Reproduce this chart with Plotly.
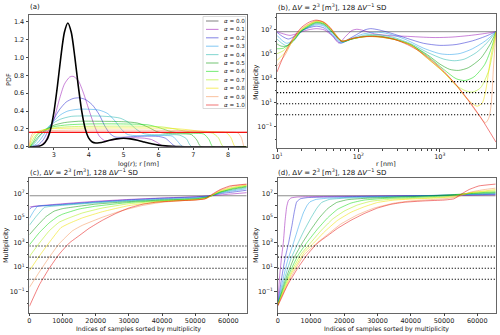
import numpy as np
import plotly.graph_objects as go

FONT = "DejaVu Sans"
W, H = 500, 335

ALPHA_LABELS = ["0.0", "0.1", "0.2", "0.3", "0.4", "0.5", "0.6", "0.7", "0.8", "0.9", "1.0"]
LINE_COLORS = [
    "rgba(0,0,0,0.45)",
    "rgba(150,10,180,0.5)",
    "rgba(30,30,210,0.5)",
    "rgba(0,145,230,0.45)",
    "rgba(0,170,160,0.45)",
    "rgba(0,150,0,0.5)",
    "rgba(0,220,0,0.5)",
    "rgba(170,240,0,0.5)",
    "rgba(240,225,0,0.55)",
    "rgba(245,130,60,0.45)",
    "rgba(230,0,0,0.5)",
]

# ── (a) sampling PDFs vs log(r) ─────────────────────────────────────────
A_X_BLACK = [2.30, 2.50, 2.60, 2.70, 2.80, 2.90, 3.00, 3.10, 3.20, 3.30, 3.40, 3.50, 3.60, 3.70, 3.80, 3.90,
             4.00, 4.10, 4.20, 4.30, 4.45, 4.60, 4.80, 5.00, 5.20, 5.40, 5.60, 5.80, 6.00, 6.20, 6.40, 6.60, 6.80, 8.52]
A_Y_BLACK = [0.000, 0.002, 0.008, 0.028, 0.078, 0.188, 0.386, 0.675, 1.007, 1.280, 1.387, 1.280, 1.007, 0.680, 0.395, 0.200,
             0.096, 0.053, 0.041, 0.044, 0.056, 0.072, 0.088, 0.094, 0.088, 0.072, 0.052, 0.033, 0.018, 0.009, 0.004, 0.001, 0.000, 0.000]

A_X_01 = [2.40, 2.60, 2.75, 2.90, 3.00, 3.15, 3.30, 3.45, 3.55, 3.70, 3.85, 4.00, 4.15, 4.30, 4.45, 4.60, 4.80, 5.00, 5.30, 5.60, 5.80, 5.95, 6.10, 6.25, 8.52]
A_Y_01 = [0.000, 0.010, 0.060, 0.190, 0.300, 0.520, 0.700, 0.780, 0.790, 0.740, 0.600, 0.420, 0.250, 0.120, 0.070, 0.070, 0.085, 0.095, 0.100, 0.095, 0.080, 0.050, 0.015, 0.000, 0.000]
A_X_02 = [2.38, 2.55, 2.70, 2.85, 3.00, 3.15, 3.35, 3.55, 3.72, 3.90, 4.10, 4.30, 4.45, 4.60, 4.75, 4.90, 5.20, 5.60, 6.00, 6.20, 6.35, 6.50, 8.52]
A_Y_02 = [0.000, 0.020, 0.080, 0.190, 0.310, 0.410, 0.500, 0.540, 0.548, 0.530, 0.470, 0.360, 0.240, 0.150, 0.110, 0.105, 0.112, 0.118, 0.115, 0.095, 0.045, 0.000, 0.000]
A_X_03 = [2.35, 2.50, 2.65, 2.80, 3.00, 3.20, 3.40, 3.70, 4.00, 4.30, 4.55, 4.75, 4.95, 5.10, 5.30, 5.70, 6.10, 6.40, 6.55, 6.70, 8.52]
A_Y_03 = [0.000, 0.030, 0.100, 0.190, 0.290, 0.360, 0.400, 0.420, 0.420, 0.410, 0.370, 0.290, 0.190, 0.140, 0.125, 0.125, 0.125, 0.118, 0.060, 0.000, 0.000]
A_X_04 = [2.33, 2.45, 2.60, 2.78, 3.00, 3.20, 3.50, 4.00, 4.50, 4.90, 5.15, 5.35, 5.55, 5.80, 6.20, 6.60, 6.80, 6.95, 8.52]
A_Y_04 = [0.000, 0.040, 0.120, 0.200, 0.270, 0.310, 0.340, 0.345, 0.340, 0.320, 0.270, 0.200, 0.150, 0.135, 0.135, 0.130, 0.090, 0.000, 0.000]
A_X_05 = [2.32, 2.42, 2.57, 2.78, 3.00, 3.30, 3.70, 4.30, 5.00, 5.40, 5.70, 5.95, 6.20, 6.60, 6.95, 7.10, 7.22, 8.52]
A_Y_05 = [0.000, 0.045, 0.120, 0.190, 0.240, 0.270, 0.285, 0.285, 0.280, 0.265, 0.220, 0.170, 0.150, 0.145, 0.135, 0.075, 0.000, 0.000]
A_X_06 = [2.31, 2.40, 2.52, 2.72, 3.00, 3.40, 4.00, 5.00, 5.70, 6.05, 6.35, 6.60, 7.00, 7.30, 7.45, 7.56, 8.52]
A_Y_06 = [0.000, 0.050, 0.130, 0.190, 0.225, 0.245, 0.255, 0.255, 0.245, 0.210, 0.170, 0.155, 0.150, 0.142, 0.080, 0.000, 0.000]
A_X_07 = [2.30, 2.37, 2.48, 2.68, 3.00, 3.50, 4.50, 5.50, 6.10, 6.45, 6.80, 7.20, 7.55, 7.72, 7.86, 8.52]
A_Y_07 = [0.000, 0.060, 0.130, 0.180, 0.210, 0.225, 0.230, 0.230, 0.222, 0.200, 0.172, 0.160, 0.152, 0.100, 0.000, 0.000]
A_X_08 = [2.295, 2.34, 2.43, 2.60, 2.90, 3.50, 4.50, 5.50, 6.40, 6.85, 7.20, 7.60, 7.95, 8.08, 8.20, 8.52]
A_Y_08 = [0.000, 0.070, 0.140, 0.180, 0.200, 0.208, 0.210, 0.210, 0.205, 0.190, 0.173, 0.165, 0.156, 0.100, 0.000, 0.000]
A_X_09 = [2.29, 2.32, 2.39, 2.50, 2.80, 3.50, 5.00, 6.50, 7.20, 7.60, 8.00, 8.28, 8.38, 8.46, 8.52]
A_Y_09 = [0.000, 0.080, 0.150, 0.170, 0.180, 0.185, 0.186, 0.182, 0.175, 0.168, 0.165, 0.155, 0.100, 0.000, 0.000]
A_X_10 = [2.286, 8.54]
A_Y_10 = [0.161, 0.161]

# ── (b) multiplicity vs r, stored as log10(r), log10(multiplicity) ──────
B_LR_00 = [1.00, 3.69]
B_LM_00 = [6.80, 6.80]
B_LR_01 = [1.00, 1.08, 1.16, 1.25, 1.35, 1.48, 1.58, 1.68, 1.76, 1.84, 1.92, 1.98, 2.05, 2.20, 2.40, 2.60, 2.80, 2.95, 3.15, 3.35, 3.52, 3.69]
B_LM_01 = [6.80, 6.62, 6.50, 6.65, 6.90, 7.05, 6.95, 6.45, 5.88, 6.40, 6.90, 7.00, 6.92, 6.62, 6.47, 6.42, 6.35, 6.32, 6.36, 6.48, 6.62, 6.80]
B_LR_02 = [1.00, 1.07, 1.14, 1.22, 1.32, 1.48, 1.58, 1.68, 1.78, 1.88, 2.00, 2.08, 2.15, 2.25, 2.40, 2.60, 2.80, 3.00, 3.20, 3.40, 3.56, 3.69]
B_LM_02 = [6.75, 6.40, 6.20, 6.45, 6.95, 7.25, 7.10, 6.50, 5.85, 6.20, 6.65, 6.95, 7.05, 6.95, 6.68, 6.25, 5.85, 5.68, 5.75, 6.05, 6.42, 6.80]
B_LR_03 = [1.00, 1.06, 1.12, 1.20, 1.30, 1.48, 1.58, 1.68, 1.79, 1.90, 2.05, 2.20, 2.30, 2.45, 2.60, 2.80, 3.00, 3.12, 3.25, 3.40, 3.56, 3.69]
B_LM_03 = [6.50, 6.10, 5.85, 6.10, 6.85, 7.37, 7.25, 6.60, 5.90, 6.20, 6.60, 6.75, 6.72, 6.48, 6.10, 5.45, 5.00, 4.93, 5.02, 5.40, 6.05, 6.80]
B_LR_04 = [1.00, 1.06, 1.12, 1.20, 1.30, 1.48, 1.58, 1.68, 1.80, 1.92, 2.10, 2.25, 2.45, 2.65, 2.85, 3.05, 3.18, 3.30, 3.45, 3.58, 3.69]
B_LM_04 = [6.20, 5.85, 5.65, 6.00, 6.80, 7.46, 7.33, 6.70, 5.95, 6.20, 6.55, 6.55, 6.30, 5.80, 5.10, 4.55, 4.42, 4.55, 5.10, 5.90, 6.80]
B_LR_05 = [1.00, 1.05, 1.12, 1.20, 1.30, 1.48, 1.58, 1.68, 1.80, 1.92, 2.10, 2.25, 2.45, 2.65, 2.85, 3.00, 3.12, 3.23, 3.35, 3.50, 3.62, 3.69]
B_LM_05 = [5.80, 5.62, 5.62, 6.05, 6.85, 7.53, 7.40, 6.75, 6.00, 6.20, 6.45, 6.45, 6.20, 5.70, 4.90, 4.15, 3.72, 3.63, 3.85, 4.60, 5.80, 6.80]
B_LR_06 = [1.00, 1.08, 1.18, 1.30, 1.48, 1.58, 1.68, 1.80, 1.92, 2.10, 2.25, 2.45, 2.65, 2.85, 3.05, 3.20, 3.31, 3.42, 3.55, 3.64, 3.69]
B_LM_06 = [5.40, 5.45, 6.00, 6.90, 7.58, 7.45, 6.80, 6.02, 6.20, 6.42, 6.40, 6.17, 5.72, 4.80, 3.70, 2.95, 2.80, 3.10, 4.10, 5.60, 6.80]
B_LR_07 = [1.00, 1.08, 1.18, 1.30, 1.48, 1.58, 1.68, 1.80, 1.92, 2.10, 2.25, 2.45, 2.65, 2.85, 3.05, 3.20, 3.32, 3.40, 3.50, 3.60, 3.66, 3.69]
B_LM_07 = [5.00, 5.25, 5.95, 6.95, 7.63, 7.50, 6.85, 6.02, 6.22, 6.40, 6.38, 6.15, 5.70, 4.65, 3.45, 2.40, 1.95, 1.85, 2.20, 3.60, 5.50, 6.80]
B_LR_08 = [1.00, 1.10, 1.20, 1.30, 1.48, 1.58, 1.68, 1.80, 1.92, 2.10, 2.25, 2.45, 2.65, 2.85, 3.05, 3.20, 3.32, 3.41, 3.46, 3.52, 3.56, 3.63, 3.69]
B_LM_08 = [4.45, 5.10, 6.10, 7.00, 7.67, 7.55, 6.90, 6.03, 6.24, 6.40, 6.37, 6.15, 5.65, 4.60, 3.45, 2.40, 1.40, 0.85, 0.70, 0.95, 1.85, 4.86, 6.80]
B_LR_09 = [1.00, 1.10, 1.20, 1.30, 1.48, 1.58, 1.68, 1.80, 1.92, 2.10, 2.25, 2.45, 2.65, 2.85, 3.05, 3.20, 3.35, 3.48, 3.56, 3.60, 3.63, 3.66, 3.69]
B_LM_09 = [4.00, 4.90, 6.20, 7.05, 7.71, 7.58, 6.95, 6.03, 6.25, 6.40, 6.37, 6.15, 5.70, 4.60, 3.50, 2.45, 1.15, -0.05, -0.66, -0.30, 0.80, 4.00, 6.80]
B_LR_10 = [1.00, 1.10, 1.20, 1.30, 1.40, 1.48, 1.56, 1.65, 1.72, 1.79, 1.86, 1.95, 2.05, 2.17, 2.30, 2.45, 2.60, 2.75, 2.90, 3.05, 3.20, 3.35, 3.50, 3.69]
B_LM_10 = [3.50, 5.10, 6.30, 7.15, 7.60, 7.75, 7.62, 7.15, 6.50, 6.03, 6.10, 6.28, 6.38, 6.42, 6.36, 6.15, 5.75, 5.20, 4.45, 3.55, 2.45, 1.20, -0.20, -2.25]

# threshold lines (dotted)
HLINES = [512, 64, 8, 1]

# ── (c) sorted multiplicity, log10 values ───────────────────────────────
C_IDX_00 = [0, 65536]
C_LM_00 = [6.80, 6.80]
C_IDX_01 = [0, 1500, 10000, 20000, 30000, 40000, 50000, 55000, 60000, 65536]
C_LM_01 = [5.88, 5.95, 6.15, 6.35, 6.50, 6.62, 6.72, 6.80, 6.92, 7.05]
C_IDX_02 = [0, 600, 1500, 10000, 20000, 30000, 40000, 50000, 54000, 58000, 62000, 65536]
C_LM_02 = [5.68, 5.85, 5.92, 6.10, 6.30, 6.47, 6.60, 6.70, 6.78, 6.98, 7.12, 7.25]
C_IDX_03 = [0, 1200, 2500, 5000, 10000, 20000, 30000, 40000, 50000, 54000, 58000, 62000, 65536]
C_LM_03 = [4.95, 5.50, 5.95, 6.00, 6.07, 6.27, 6.42, 6.55, 6.65, 6.75, 7.05, 7.22, 7.37]
C_IDX_04 = [0, 2000, 4500, 6000, 10000, 20000, 30000, 40000, 50000, 54000, 58000, 62000, 65536]
C_LM_04 = [4.40, 5.10, 5.85, 5.92, 6.02, 6.22, 6.38, 6.50, 6.60, 6.72, 7.08, 7.30, 7.46]
C_IDX_05 = [0, 2500, 5000, 7500, 10000, 20000, 30000, 40000, 50000, 53500, 57500, 61500, 65536]
C_LM_05 = [3.63, 4.40, 5.10, 5.55, 5.75, 6.12, 6.32, 6.45, 6.55, 6.68, 7.10, 7.35, 7.53]
C_IDX_06 = [0, 3000, 6000, 8500, 10000, 15000, 20000, 30000, 40000, 50000, 53500, 57500, 61500, 65536]
C_LM_06 = [2.80, 3.80, 4.60, 5.10, 5.30, 5.72, 5.95, 6.25, 6.40, 6.52, 6.65, 7.10, 7.40, 7.58]
C_IDX_07 = [0, 3000, 6000, 9000, 12000, 16000, 22000, 30000, 40000, 50000, 53500, 57500, 61500, 65536]
C_LM_07 = [1.85, 2.95, 3.95, 4.65, 5.00, 5.40, 5.80, 6.15, 6.37, 6.50, 6.62, 7.15, 7.45, 7.63]
C_IDX_08 = [0, 3000, 6000, 9500, 12000, 16000, 22000, 30000, 40000, 50000, 53500, 57500, 61500, 65536]
C_LM_08 = [0.70, 1.90, 3.00, 4.20, 4.55, 5.00, 5.50, 6.00, 6.32, 6.47, 6.60, 7.20, 7.50, 7.67]
C_IDX_09 = [0, 3000, 6000, 9000, 13000, 16000, 22000, 28000, 34000, 40000, 46000, 53000, 57500, 61500, 65536]
C_LM_09 = [-0.66, 0.60, 1.80, 2.90, 3.95, 4.40, 5.05, 5.60, 6.00, 6.27, 6.40, 6.55, 7.25, 7.60, 7.71]
C_IDX_10 = [0, 3000, 6000, 9000, 12000, 15000, 18000, 22000, 26000, 30000, 34000, 38000, 44000, 50000, 53000, 55000, 57500, 60500, 65536]
C_LM_10 = [-2.20, -0.45, 0.90, 2.05, 2.95, 3.55, 4.15, 4.80, 5.35, 5.80, 6.10, 6.27, 6.38, 6.45, 6.55, 6.90, 7.30, 7.60, 7.75]

# ── (d) sorted multiplicity, log10 values ───────────────────────────────
D_IDX_00 = [0, 65536]
D_LM_00 = [6.80, 6.80]
D_IDX_01 = [0, 600, 1200, 1700, 2200, 2700, 3200, 4000, 6000, 20000, 40000, 55000, 65536]
D_LM_01 = [-2.10, 0.30, 1.90, 3.00, 4.70, 5.90, 6.40, 6.62, 6.70, 6.76, 6.80, 6.83, 6.87]
D_IDX_02 = [0, 1000, 2200, 3300, 4300, 5000, 5700, 6800, 9000, 20000, 40000, 55000, 65536]
D_LM_02 = [-2.10, -0.20, 1.70, 3.00, 4.40, 5.50, 6.30, 6.55, 6.65, 6.72, 6.80, 6.86, 6.92]
D_IDX_03 = [0, 1500, 3000, 4800, 6300, 7700, 8800, 9700, 11500, 15000, 25000, 40000, 55000, 65536]
D_LM_03 = [-2.10, -0.10, 1.55, 3.00, 4.30, 5.40, 6.00, 6.30, 6.50, 6.60, 6.70, 6.78, 6.88, 6.95]
D_IDX_04 = [0, 2000, 4000, 6200, 8000, 10000, 11800, 13200, 15500, 20000, 30000, 45000, 55000, 65536]
D_LM_04 = [-2.10, 0.00, 1.70, 3.00, 4.00, 5.00, 5.80, 6.25, 6.50, 6.60, 6.68, 6.80, 6.90, 7.00]
D_IDX_05 = [0, 2500, 5000, 7500, 10000, 12500, 15000, 17700, 21000, 27000, 35000, 45000, 52000, 58000, 65536]
D_LM_05 = [-2.10, 0.10, 1.80, 3.00, 4.05, 5.00, 5.75, 6.25, 6.48, 6.60, 6.68, 6.78, 6.88, 6.98, 7.05]
D_IDX_06 = [0, 3000, 6000, 8800, 12000, 15000, 18000, 22000, 26000, 32000, 40000, 48000, 53000, 58000, 65536]
D_LM_06 = [-2.10, 0.20, 1.90, 3.00, 4.10, 5.00, 5.70, 6.20, 6.45, 6.58, 6.65, 6.75, 6.85, 7.00, 7.12]
D_IDX_07 = [0, 3500, 7000, 10000, 13000, 16500, 20000, 24000, 28000, 34000, 42000, 49000, 53000, 58000, 65536]
D_LM_07 = [-2.10, 0.30, 2.05, 3.00, 3.95, 4.90, 5.55, 6.05, 6.35, 6.52, 6.60, 6.68, 6.80, 7.05, 7.20]
D_IDX_08 = [0, 4000, 8000, 11000, 14000, 18000, 22000, 26000, 30000, 35000, 42000, 48000, 53000, 58000, 65536]
D_LM_08 = [-2.10, 0.40, 2.20, 3.00, 3.85, 4.80, 5.45, 5.90, 6.25, 6.45, 6.55, 6.62, 6.72, 7.05, 7.30]
D_IDX_09 = [0, 4000, 8000, 12000, 15000, 19000, 24000, 29000, 35000, 40000, 45000, 50000, 54000, 58000, 62000, 65536]
D_LM_09 = [-2.10, 0.20, 2.00, 3.00, 3.65, 4.50, 5.25, 5.80, 6.20, 6.38, 6.47, 6.55, 6.70, 7.10, 7.30, 7.42]
D_IDX_10 = C_IDX_10
D_LM_10 = C_LM_10

A_CURVES = [(A_X_01, A_Y_01), (A_X_02, A_Y_02), (A_X_03, A_Y_03), (A_X_04, A_Y_04), (A_X_05, A_Y_05),
            (A_X_06, A_Y_06), (A_X_07, A_Y_07), (A_X_08, A_Y_08), (A_X_09, A_Y_09), (A_X_10, A_Y_10)]
B_CURVES = [(B_LR_00, B_LM_00), (B_LR_01, B_LM_01), (B_LR_02, B_LM_02), (B_LR_03, B_LM_03), (B_LR_04, B_LM_04),
            (B_LR_05, B_LM_05), (B_LR_06, B_LM_06), (B_LR_07, B_LM_07), (B_LR_08, B_LM_08), (B_LR_09, B_LM_09),
            (B_LR_10, B_LM_10)]
C_CURVES = [(C_IDX_00, C_LM_00), (C_IDX_01, C_LM_01), (C_IDX_02, C_LM_02), (C_IDX_03, C_LM_03), (C_IDX_04, C_LM_04),
            (C_IDX_05, C_LM_05), (C_IDX_06, C_LM_06), (C_IDX_07, C_LM_07), (C_IDX_08, C_LM_08), (C_IDX_09, C_LM_09),
            (C_IDX_10, C_LM_10)]
D_CURVES = [(D_IDX_00, D_LM_00), (D_IDX_01, D_LM_01), (D_IDX_02, D_LM_02), (D_IDX_03, D_LM_03), (D_IDX_04, D_LM_04),
            (D_IDX_05, D_LM_05), (D_IDX_06, D_LM_06), (D_IDX_07, D_LM_07), (D_IDX_08, D_LM_08), (D_IDX_09, D_LM_09),
            (D_IDX_10, D_LM_10)]


def px_x(p):
    return p / W


def px_y(p):
    return 1 - p / H


def line(fig, x, y, color, ax, width=1.0, smoothing=0.8, dash="solid"):
    fig.add_trace(go.Scatter(
        x=x, y=y, mode="lines", showlegend=False, hoverinfo="skip",
        line=dict(color=color, width=width, shape="spline" if smoothing else "linear",
                  smoothing=smoothing, dash=dash),
        xaxis="x" + ax, yaxis="y" + ax,
    ))


fig = go.Figure()

# (a)
for (xs, ys), color in zip(A_CURVES, LINE_COLORS[1:]):
    line(fig, xs, ys, color, "", smoothing=0.7)
line(fig, A_X_10, A_Y_10, "rgb(245,20,20)", "", width=1.3, smoothing=0)
line(fig, A_X_BLACK, A_Y_BLACK, "black", "", width=1.6, smoothing=0.7)

# (b), (c), (d)
for ax, curves, xlim, is_r in (("2", B_CURVES, [10, 4900], True),
                               ("3", C_CURVES, [0, 65536], False),
                               ("4", D_CURVES, [0, 65536], False)):
    for (xs, lm), color in zip(curves, LINE_COLORS):
        xv = 10.0 ** np.array(xs) if is_r else xs
        line(fig, xv, 10.0 ** np.array(lm), color, ax, smoothing=0.7 if is_r else 0.4)
    for h in HLINES:
        line(fig, xlim, [h, h], "black", ax, width=1.1, smoothing=0, dash="1.2px,1.8px")

tick_font = dict(family=FONT, size=6.5, color="#222")
axis_common = dict(showline=True, mirror=True, linecolor="#666", linewidth=0.9, ticks="outside",
                   ticklen=2.5, tickcolor="#444", tickwidth=0.8, showgrid=False, zeroline=False,
                   tickfont=tick_font, automargin=False)
x_common = dict(axis_common, ticklabelstandoff=-1)
minor_log = dict(ticks="outside", ticklen=1.5, tickcolor="#444", dtick=1)

LOG_Y_VALS = [1e-1, 1e1, 1e3, 1e5, 1e7]
LOG_Y_TEXT = ["10<sup>−1</sup>", "10<sup>1</sup>", "10<sup>3</sup>", "10<sup>5</sup>", "10<sup>7</sup>"]
IDX_TICKS = [0, 10000, 20000, 30000, 40000, 50000, 60000]

BOTTOM = 312.5
fig.update_layout(
    width=W, height=H, margin=dict(l=0, r=0, t=0, b=0),
    paper_bgcolor="white", plot_bgcolor="white",
    font=dict(family=FONT, size=7, color="#222"),
    xaxis=dict(domain=[px_x(29), px_x(247)], range=[2.286, 8.54], anchor="y",
               tickvals=[3, 4, 5, 6, 7, 8], **x_common),
    yaxis=dict(domain=[px_y(146.7), px_y(14.7)], range=[0, 1.48], anchor="x",
               tickvals=[0, 0.2, 0.4, 0.6, 0.8, 1.0, 1.2, 1.4], tickformat=".1f", **axis_common),
    xaxis2=dict(domain=[px_x(277), px_x(496)], type="log", range=[1, 3.69], anchor="y2",
                tickvals=[10, 100, 1000],
                ticktext=["10<sup>1</sup>", "10<sup>2</sup>", "10<sup>3</sup>"],
                minor=dict(ticks="outside", ticklen=1.5, tickcolor="#444", dtick="D1"), **x_common),
    yaxis2=dict(domain=[px_y(148.3), px_y(14)], type="log", range=[-2.75, 8.25], anchor="x2",
                tickvals=LOG_Y_VALS, ticktext=LOG_Y_TEXT, minor=minor_log, **axis_common),
    xaxis3=dict(domain=[px_x(29.4), px_x(246.7)], range=[0, 65536], anchor="y3",
                tickvals=IDX_TICKS, tickformat="d", **x_common),
    yaxis3=dict(domain=[px_y(BOTTOM), px_y(178.3)], type="log", range=[-2.7, 8.22], anchor="x3",
                tickvals=LOG_Y_VALS, ticktext=LOG_Y_TEXT, minor=minor_log, **axis_common),
    xaxis4=dict(domain=[px_x(277.7), px_x(495.7)], range=[0, 65536], anchor="y4",
                tickvals=IDX_TICKS, tickformat="d", **x_common),
    yaxis4=dict(domain=[px_y(BOTTOM), px_y(178.3)], type="log", range=[-2.7, 8.22], anchor="x4",
                tickvals=LOG_Y_VALS, ticktext=LOG_Y_TEXT, minor=minor_log, **axis_common),
)

SUB = "Δ<i>V</i> = 2<sup>3</sup> [m<sup>3</sup>], 128 Δ<i>V</i><sup>−1</sup> SD"
TEXTS = [
    ("(a)", 28, 7, 0, "left", 7),
    ("(b), " + SUB, 276, 7, 0, "left", 7),
    ("(c), " + SUB, 28, 171.5, 0, "left", 7),
    ("(d), " + SUB, 276, 171.5, 0, "left", 7),
    ("PDF", 9, 80, -90, "center", 6.5),
    ("log(<i>r</i>); r [nm]", 138, 164, 0, "center", 6.3),
    ("Multiplicity", 256, 82, -90, "center", 6.5),
    ("r [nm]", 386, 164, 0, "center", 6.3),
    ("Multiplicity", 6, 245, -90, "center", 6.5),
    ("Indices of samples sorted by multiplicity", 138, 329.3, 0, "center", 6.2),
    ("Multiplicity", 256, 245, -90, "center", 6.5),
    ("Indices of samples sorted by multiplicity", 386, 329.3, 0, "center", 6.2),
]
for text, x, y, angle, anchor, size in TEXTS:
    fig.add_annotation(text=text, x=px_x(x), y=px_y(y), xref="paper", yref="paper",
                       xanchor=anchor, yanchor="middle", textangle=angle, showarrow=False,
                       font=dict(family=FONT, size=size, color="#111"))

# legend for panel (a), drawn by hand so that it stays compact
fig.add_shape(type="rect", xref="paper", yref="paper", layer="above",
              x0=px_x(203), x1=px_x(245.5), y0=px_y(108.5), y1=px_y(16.5),
              line=dict(color="#d0d0d0", width=0.8), fillcolor="rgba(255,255,255,0.85)")
for i, (label, color) in enumerate(zip(ALPHA_LABELS, LINE_COLORS)):
    yy = px_y(21 + i * 8.4)
    fig.add_shape(type="line", xref="paper", yref="paper", layer="above",
                  x0=px_x(206), x1=px_x(218.5), y0=yy, y1=yy, line=dict(color=color, width=1.1))
    fig.add_annotation(text="<i>α</i> = " + label, x=px_x(221.5), y=yy, xref="paper", yref="paper",
                       xanchor="left", yanchor="middle", showarrow=False,
                       font=dict(family=FONT, size=5.6, color="#222"))

# the page's default body margin would shift the whole figure; drop it
fig.write_html("out.html", config={"displayModeBar": False},
               post_script="document.body.style.margin='0px';")
